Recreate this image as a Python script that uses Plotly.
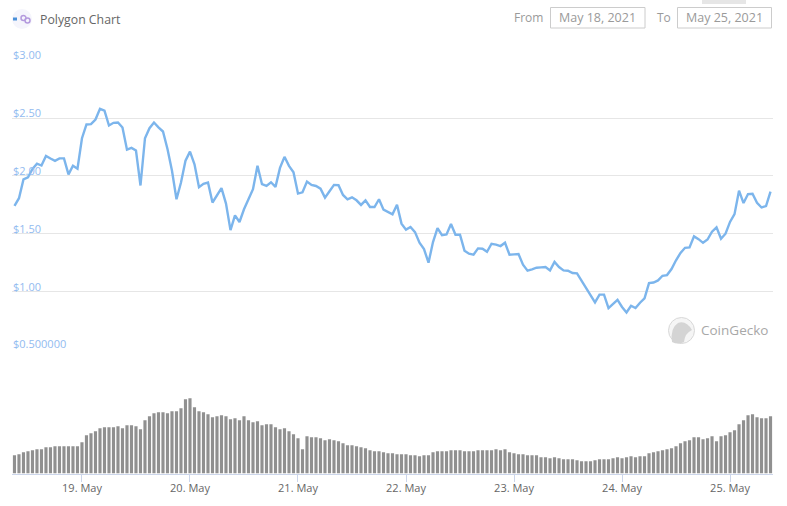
import pandas as pd
import plotly.graph_objects as go

W, H = 787, 506

# Hourly price in USD
price = [
1.74,1.807,1.97,1.987,2.06,2.106,2.09,2.172,2.15,2.13,2.152,2.152,2.013,2.088,2.062,
2.326,2.445,2.448,2.488,2.58,2.564,2.436,2.459,2.462,2.419,2.227,2.242,2.219,1.917,2.326,
2.413,2.462,2.42,2.384,2.233,2.045,1.798,1.943,2.132,2.21,2.1,1.903,1.932,1.943,1.77,
1.827,1.894,1.76,1.531,1.659,1.601,1.711,1.798,1.885,2.088,1.928,1.913,1.945,1.905,2.069,
2.165,2.087,2.032,1.847,1.858,1.951,1.922,1.913,1.89,1.812,1.867,1.922,1.919,1.835,1.798,
1.815,1.789,1.749,1.789,1.731,1.731,1.798,1.708,1.688,1.668,1.751,1.587,1.535,1.558,1.514,
1.422,1.367,1.249,1.428,1.549,1.488,1.494,1.584,1.491,1.491,1.353,1.327,1.318,1.373,1.37,
1.344,1.413,1.405,1.393,1.422,1.318,1.321,1.324,1.232,1.18,1.192,1.206,1.209,1.212,1.183,
1.256,1.212,1.183,1.18,1.16,1.157,1.093,1.04,.973,.906,.973,.973,.857,.895,.927,
.866,.819,.877,.857,.903,.941,1.072,1.078,1.096,1.136,1.142,1.194,1.27,1.334,1.378,
1.381,1.477,1.453,1.421,1.45,1.517,1.555,1.456,1.5,1.602,1.669,1.872,1.765,1.843,1.846,
1.768,1.727,1.739,1.864]

# Hourly volume, relative units
volume = [
55,58,64,67,70,73,73,79,79,82,82,82,82,82,82,
94,115,121,127,136,139,139,139,142,136,145,145,142,133,160,
172,181,184,184,181,187,187,196,223,226,199,187,184,178,169,
172,175,172,163,166,160,172,160,154,157,145,148,148,139,133,
136,127,118,106,73,112,109,109,106,100,103,100,97,91,85,
85,82,79,76,70,67,67,64,61,61,58,58,58,55,55,
52,55,55,64,67,67,67,70,70,70,67,67,67,70,70,
70,70,73,70,73,64,61,58,58,55,55,55,49,49,46,
49,46,43,43,43,40,37,37,37,40,43,43,43,46,49,
46,49,52,49,52,52,61,64,67,70,73,76,82,91,97,
100,109,109,103,106,112,97,112,115,124,130,148,160,175,178,
169,166,166,172]

price_ticks = [0.5, 1.0, 1.5, 2.0, 2.5, 3.0]
price_labels = ["$0.500000", "$1.00", "$1.50", "$2.00", "$2.50", "$3.00"]
day_ticks = ["2021-05-19", "2021-05-20", "2021-05-21", "2021-05-22",
             "2021-05-23", "2021-05-24", "2021-05-25"]
day_labels = ["19. May", "20. May", "21. May", "22. May", "23. May", "24. May", "25. May"]
title_text = "Polygon Chart"
date_from = "May 18, 2021"
date_to = "May 25, 2021"

times = pd.date_range("2021-05-18 09:00", periods=len(price), freq="h")

FONT = "Open Sans, Noto Sans, sans-serif"


def px(x):
    return x / W


def py(y):
    return 1 - y / H


def rect(x0, y0, x1, y1, **kw):
    return dict(type="rect", xref="paper", yref="paper", x0=px(x0), x1=px(x1),
                y0=py(y1), y1=py(y0), **kw)


def circle(x0, y0, x1, y1, **kw):
    return dict(type="circle", xref="paper", yref="paper", x0=px(x0), x1=px(x1),
                y0=py(y1), y1=py(y0), **kw)


def label(x, y, text, size, color, anchor="left"):
    return dict(xref="paper", yref="paper", x=px(x), y=py(y), text=text, showarrow=False,
                xanchor=anchor, yanchor="middle", borderpad=0,
                font=dict(family=FONT, size=size, color=color))


fig = go.Figure()
fig.add_trace(go.Bar(x=times, y=volume, xaxis="x", yaxis="y2",
                     marker=dict(color="#909090", line=dict(width=0))))
fig.add_trace(go.Scatter(x=times, y=price, xaxis="x", yaxis="y", mode="lines",
                         line=dict(color="#7cb5ec", width=2.4)))

annotations = [
    dict(xref="paper", yref="y", x=px(11.5), y=v, text=t, showarrow=False, xanchor="left",
         yanchor="bottom", borderpad=0, yshift=-3,
         font=dict(family=FONT, size=11, color="#92bbf0"))
    for v, t in zip(price_ticks, price_labels)
]
annotations += [
    label(38.5, 19.5, title_text, 12.3, "#666666"),
    label(512.5, 17.5, "From", 12, "#9a9a9a"),
    label(656, 17.5, "To", 12, "#9a9a9a"),
    label(597.5, 17.5, date_from, 12.5, "#9a9a9a", "center"),
    label(724.5, 17.5, date_to, 12.5, "#9a9a9a", "center"),
    label(700, 330, "CoinGecko", 13.5, "#a8a8a8"),
]

gecko_body = ("M {} {} Q {} {} {} {} Q {} {} {} {} Q {} {} {} {} Q {} {} {} {} Z".format(
    px(672), py(342), px(670), py(328), px(678), py(323),
    px(686), py(320), px(692), py(330),
    px(685), py(333), px(684), py(342),
    px(678), py(345), px(672), py(342)))

shapes = [
    rect(550.5, 7.5, 645, 28, line=dict(color="#cccccc", width=1), fillcolor="white"),
    rect(677.5, 7.5, 771.5, 28, line=dict(color="#cccccc", width=1), fillcolor="white"),
    rect(702, 0, 746, 4, line=dict(width=0), fillcolor="#e6e6e6"),
    circle(12, 9, 32, 29, line=dict(width=0), fillcolor="#f5f5fc"),
    rect(13, 17.5, 17, 20.5, line=dict(width=0), fillcolor="#4a90d9"),
    circle(21, 15.5, 26, 20.5, line=dict(color="#b49ade", width=1.5), fillcolor="rgba(0,0,0,0)"),
    circle(25, 18, 30, 23, line=dict(color="#b49ade", width=1.5), fillcolor="rgba(0,0,0,0)"),
    circle(668.5, 317.5, 694.5, 343.5, line=dict(color="#d8d8d8", width=1), fillcolor="#f5f5f5"),
    dict(type="path", xref="paper", yref="paper", path=gecko_body,
         line=dict(width=0), fillcolor="#d4d4d4"),
]

fig.update_layout(
    width=W, height=H, autosize=False,
    margin=dict(l=0, r=0, t=0, b=0, pad=0),
    paper_bgcolor="white", plot_bgcolor="white",
    showlegend=False, hovermode=False, bargap=0.3,
    annotations=annotations, shapes=shapes,
    xaxis=dict(
        type="date", domain=[px(12), px(773)], anchor="y2",
        range=["2021-05-18 08:27", "2021-05-25 09:33"],
        tickvals=day_ticks, ticktext=day_labels, tickangle=0,
        ticks="outside", ticklen=7, tickcolor="#ccd6eb", tickwidth=1,
        ticklabelstandoff=-3,
        showline=True, linecolor="#ccd6eb", linewidth=1,
        showgrid=False, zeroline=False,
        tickfont=dict(family=FONT, size=11, color="#666666"),
    ),
    yaxis=dict(
        domain=[py(349.3), py(60.3)], range=[0.5, 3.0], anchor="free", position=px(12),
        tickvals=price_ticks, showticklabels=False, ticks="",
        showgrid=True, gridcolor="#e6e6e6", gridwidth=1, zeroline=False, showline=False,
    ),
    yaxis2=dict(
        domain=[py(473.5), py(373.5)], range=[0, 300], anchor="x",
        showticklabels=False, ticks="", showgrid=False, zeroline=False, showline=False,
    ),
)

fig.write_html("out.html", post_script="document.body.style.margin='0';",
               config=dict(displayModeBar=False))
